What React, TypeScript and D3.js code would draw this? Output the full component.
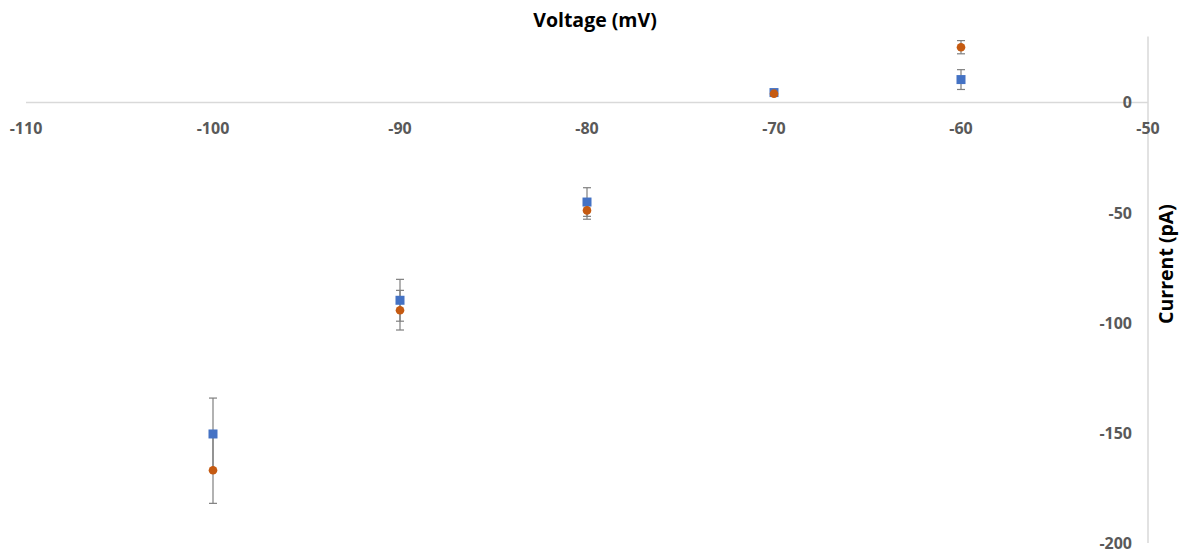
import React from "react";
import * as d3 from "d3";

const voltages = [-100, -90, -80, -70, -60];
const seriesA = [-150.5, -89.8, -45.2, 4.5, 10.4];
const errorsA = [16.3, 9.5, 6.5, 1, 4.5];
const seriesB = [-167, -94.3, -49, 4, 25.1];
const errorsB = [15, 9, 4, 1, 3];
const xTicks = [-110, -100, -90, -80, -70, -60, -50];
const yTicks = [0, -50, -100, -150, -200];

const W = 1180;
const H = 554;
const FONT = "'Open Sans', 'DejaVu Sans', sans-serif";

export default function App() {
  const x = d3.scaleLinear().domain([-110, -50]).range([26, 1148]);
  const y = d3.scaleLinear().domain([-200, 30]).range([543, 36.4]);
  const labelColor = "#595959";
  const axisColor = "#d9d9d9";
  const errColor = "#7f7f7f";
  const cap = 4;

  const errBars = (vals: number[], errs: number[], key: string) =>
    voltages.map((v, i) => {
      const cx = x(v);
      const top = y(vals[i] + errs[i]);
      const bot = y(vals[i] - errs[i]);
      return (
        <g key={key + i} stroke={errColor} strokeWidth={1.2}>
          <line x1={cx} x2={cx} y1={top} y2={bot} />
          <line x1={cx - cap} x2={cx + cap} y1={top} y2={top} />
          <line x1={cx - cap} x2={cx + cap} y1={bot} y2={bot} />
        </g>
      );
    });

  return (
    <svg
      width={W}
      height={H}
      style={{ position: "absolute", left: 0, top: 0, background: "#fff" }}
    >
      {/* horizontal axis at zero current */}
      <line x1={x(-110)} x2={x(-50)} y1={y(0)} y2={y(0)} stroke={axisColor} strokeWidth={1.5} />
      {/* vertical axis at the right edge */}
      <line x1={x(-50)} x2={x(-50)} y1={y(30)} y2={y(-200)} stroke={axisColor} strokeWidth={1.5} />

      {xTicks.map((t) => (
        <text
          key={"xt" + t}
          x={x(t)}
          y={y(0) + 32}
          textAnchor="middle"
          fontFamily={FONT}
          fontWeight={700}
          fontSize={16}
          fill={labelColor}
        >
          {t}
        </text>
      ))}
      {yTicks.map((t) => (
        <text
          key={"yt" + t}
          x={x(-50) - 16}
          y={y(t) + 6}
          textAnchor="end"
          fontFamily={FONT}
          fontWeight={700}
          fontSize={16}
          fill={labelColor}
        >
          {t}
        </text>
      ))}

      <text
        x={595}
        y={27}
        textAnchor="middle"
        fontFamily={FONT}
        fontWeight={700}
        fontSize={19.5}
        fill="#000"
      >
        Voltage (mV)
      </text>
      <text
        transform={`translate(${1173},${264}) rotate(-90)`}
        textAnchor="middle"
        fontFamily={FONT}
        fontWeight={700}
        fontSize={19.5}
        fill="#000"
      >
        Current (pA)
      </text>

      {errBars(seriesA, errorsA, "ea")}
      {errBars(seriesB, errorsB, "eb")}

      {voltages.map((v, i) => (
        <rect
          key={"a" + i}
          x={x(v) - 4.5}
          y={y(seriesA[i]) - 4.5}
          width={9}
          height={9}
          fill="#4472C4"
        />
      ))}
      {voltages.map((v, i) => (
        <circle key={"b" + i} cx={x(v)} cy={y(seriesB[i])} r={4.3} fill="#C55A11" />
      ))}
    </svg>
  );
}
